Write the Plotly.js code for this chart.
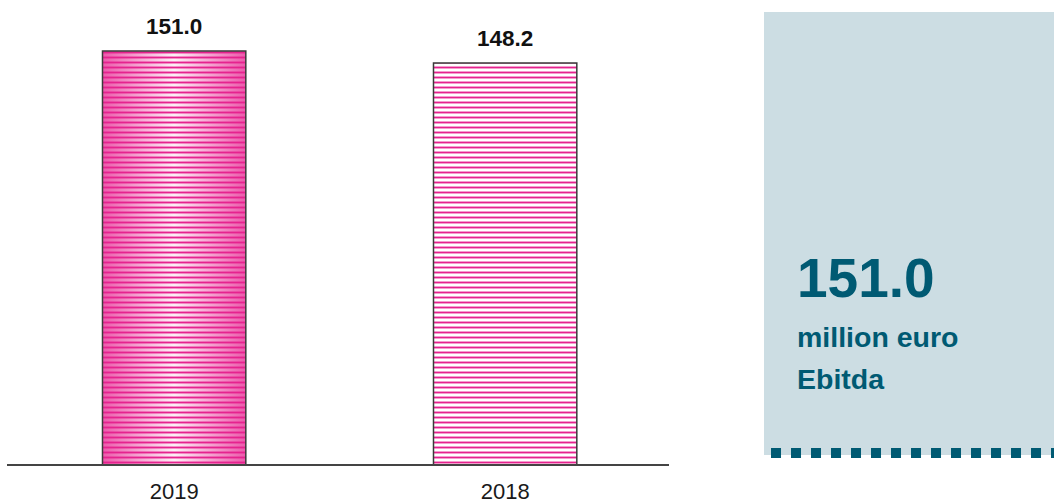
<!DOCTYPE html>
<html>
<head>
<meta charset="utf-8">
<script src="https://cdn.plot.ly/plotly-3.0.1.min.js"></script>
<style>
  html, body { margin: 0; padding: 0; background: #ffffff; }
  #chart { width: 1054px; height: 504px; }
</style>
</head>
<body>
<div id="chart"></div>
<script>
// Ebitda per year, million euro
const years = ['2019', '2018'];
const ebitda = [151.0, 148.2];
const unitLabel = 'million euro';
const metricLabel = 'Ebitda';

const FONT = '"Liberation Sans", Arial, Helvetica, sans-serif';
const PINK = '#e6228f';
const TEAL = '#005a73';

// Base fill for the current year (gets a horizontal gradient once drawn)
const baseTrace = {
  type: 'bar',
  x: [years[0]],
  y: [ebitda[0]],
  marker: { color: '#f38cc4', line: { width: 0 } },
  hoverinfo: 'none',
  showlegend: false
};

// Horizontal hatching with outline, drawn on top of both bars
const hatchTrace = {
  type: 'bar',
  x: years,
  y: ebitda,
  marker: {
    color: PINK,
    line: { color: '#3a3a3a', width: 1.5 },
    pattern: { shape: '-', fgcolor: PINK, size: 5, solidity: 0.38 }
  },
  hoverinfo: 'none',
  showlegend: false
};

// Value labels above the bars (category index positions on the x axis)
const valueLabels = years.map((yr, i) => ({
  x: i,
  y: ebitda[i],
  xref: 'x',
  yref: 'y',
  text: '<b>' + ebitda[i].toFixed(1) + '</b>',
  showarrow: false,
  yanchor: 'bottom',
  yshift: 10,
  font: { family: FONT, size: 22.5, color: '#111111' }
}));

const panelText = [
  {
    xref: 'paper', yref: 'paper', x: 1.191, y: 0.40,
    xanchor: 'left', yanchor: 'middle',
    text: '<b>' + ebitda[0].toFixed(1) + '</b>',
    showarrow: false,
    font: { family: FONT, size: 55, color: TEAL }
  },
  {
    xref: 'paper', yref: 'paper', x: 1.191, y: 0.273,
    xanchor: 'left', yanchor: 'middle',
    text: '<b>' + unitLabel + '</b>',
    showarrow: false,
    font: { family: FONT, size: 28.5, color: TEAL }
  },
  {
    xref: 'paper', yref: 'paper', x: 1.191, y: 0.183,
    xanchor: 'left', yanchor: 'middle',
    text: '<b>' + metricLabel + '</b>',
    showarrow: false,
    font: { family: FONT, size: 28.5, color: TEAL }
  }
];

const layout = {
  width: 1054,
  height: 504,
  margin: { l: 7, r: 385, t: 0, b: 40 },
  paper_bgcolor: '#ffffff',
  plot_bgcolor: '#ffffff',
  barmode: 'overlay',
  bargap: 0.567,
  showlegend: false,
  xaxis: {
    type: 'category',
    range: [-0.505, 1.495],
    showline: true,
    linecolor: '#444444',
    linewidth: 2,
    ticks: '',
    ticklabelstandoff: 7,
    showgrid: false,
    zeroline: false,
    tickfont: { family: FONT, size: 22, color: '#1a1a1a' }
  },
  yaxis: {
    visible: false,
    range: [54.63, 162.9],
    showgrid: false,
    zeroline: false
  },
  shapes: [
    {
      type: 'rect', xref: 'paper', yref: 'paper', layer: 'below',
      x0: 1.1435, x1: 1.59, y0: 0.0194, y1: 0.9741,
      fillcolor: '#ccdde3', line: { width: 0 }
    },
    {
      type: 'line', xref: 'paper', yref: 'paper',
      x0: 1.1541, x1: 1.59, y0: 0.0237, y1: 0.0237,
      line: { color: TEAL, width: 10, dash: '10px,10px' }
    }
  ],
  annotations: valueLabels.concat(panelText)
};

Plotly.newPlot('chart', [baseTrace, hatchTrace], layout, { displayModeBar: false })
  .then(gd => {
    // Horizontal pink gradient for the current-year bar: deeper edges, pale centre
    const svg = gd.querySelector('svg.main-svg');
    const ns = 'http://www.w3.org/2000/svg';
    let defs = svg.querySelector('defs');
    if (!defs) { defs = document.createElementNS(ns, 'defs'); svg.insertBefore(defs, svg.firstChild); }
    const grad = document.createElementNS(ns, 'linearGradient');
    grad.setAttribute('id', 'barPinkGradient');
    grad.setAttribute('x1', '0'); grad.setAttribute('x2', '1');
    grad.setAttribute('y1', '0'); grad.setAttribute('y2', '0');
    [['0', '#ec5aab'], ['0.5', '#fdf0f7'], ['1', '#ec5aab']].forEach(([off, col]) => {
      const s = document.createElementNS(ns, 'stop');
      s.setAttribute('offset', off);
      s.setAttribute('stop-color', col);
      grad.appendChild(s);
    });
    defs.appendChild(grad);
    const traces = gd.querySelectorAll('.barlayer .trace');
    if (traces.length) {
      const basePath = traces[0].querySelector('path');
      if (basePath) basePath.style.fill = 'url(#barPinkGradient)';
    }
  });
</script>
</body>
</html>
